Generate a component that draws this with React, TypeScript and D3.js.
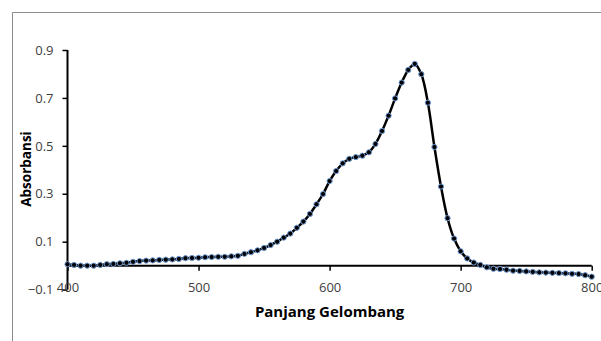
import React, { useRef, useEffect } from 'react';
import * as d3 from 'd3';

// wavelength (nm), every 5 nm
const wavelengths: number[] = d3.range(400, 801, 5);

// absorbance
const absorbance: number[] = [
  0.006, 0.003, 0.0, 0.0, 0.0, 0.003, 0.006, 0.007, 0.010, 0.012,
  0.016, 0.019, 0.021, 0.022, 0.024, 0.025, 0.026, 0.028, 0.031, 0.032,
  0.033, 0.035, 0.036, 0.037, 0.037, 0.039, 0.041, 0.049, 0.056, 0.064,
  0.074, 0.086, 0.100, 0.117, 0.134, 0.158, 0.184, 0.216, 0.256, 0.299,
  0.353, 0.395, 0.427, 0.446, 0.453, 0.459, 0.473, 0.508, 0.562, 0.626,
  0.698, 0.764, 0.817, 0.842, 0.799, 0.680, 0.495, 0.330, 0.198, 0.113,
  0.060, 0.030, 0.013, 0.003, -0.007, -0.013, -0.014, -0.017, -0.021, -0.022,
  -0.024, -0.026, -0.028, -0.029, -0.030, -0.031, -0.032, -0.034, -0.035, -0.040,
  -0.046,
];

const xTicks = [400, 500, 600, 700, 800];
const yTicks = [-0.1, 0.1, 0.3, 0.5, 0.7, 0.9];

const xTitle = 'Panjang Gelombang';
const yTitle = 'Absorbansi';

const W = 601;
const H = 341;

const App: React.FC = () => {
  const svgRef = useRef<SVGSVGElement | null>(null);

  useEffect(() => {
    if (!svgRef.current) return;
    const svg = d3.select(svgRef.current);
    svg.selectAll('*').remove();

    const tickFont = '"Open Sans", sans-serif';
    const labelColor = '#404040';

    const x = d3.scaleLinear().domain([400, 800]).range([67.5, 591.7]);
    const y = d3.scaleLinear().domain([-0.1, 0.9]).range([289.6, 50]);

    // chart border (only top and left show inside the crop)
    svg.append('path')
      .attr('d', `M12.5,${H} V12.5 H${W}`)
      .attr('fill', 'none')
      .attr('stroke', '#8c8c8c')
      .attr('stroke-width', 1);

    // y axis
    const yAxis = svg.append('g')
      .attr('transform', `translate(${x(400)},0)`)
      .call(
        d3.axisLeft(y)
          .tickValues(yTicks)
          .tickSize(5)
          .tickPadding(9)
          .tickFormat(d3.format('.1f'))
      );
    yAxis.select('.domain')
      .attr('d', `M0,${y(0.9)}V${y(-0.1)}`)
      .attr('stroke', '#000')
      .attr('stroke-width', 2);
    yAxis.selectAll('.tick line').attr('stroke', '#000').attr('stroke-width', 1.5);
    yAxis.selectAll('.tick text')
      .attr('font-family', tickFont)
      .attr('font-size', 13)
      .attr('fill', labelColor);

    // x axis, crossing at 0, labels placed low
    const xAxis = svg.append('g')
      .attr('transform', `translate(0,${y(0)})`)
      .call(
        d3.axisBottom(x)
          .tickValues(xTicks)
          .tickSize(5)
          .tickPadding(12)
          .tickFormat(d3.format('d'))
      );
    xAxis.select('.domain')
      .attr('d', `M${x(400)},0H${x(800)}`)
      .attr('stroke', '#000')
      .attr('stroke-width', 2);
    xAxis.selectAll('.tick line').attr('stroke', '#000').attr('stroke-width', 1.5);
    xAxis.selectAll('.tick text')
      .attr('font-family', tickFont)
      .attr('font-size', 13)
      .attr('fill', labelColor);

    // axis titles
    svg.append('text')
      .attr('x', (x(400) + x(800)) / 2)
      .attr('y', 317)
      .attr('text-anchor', 'middle')
      .attr('font-family', tickFont)
      .attr('font-weight', 'bold')
      .attr('font-size', 15)
      .attr('fill', '#000')
      .text(xTitle);

    svg.append('text')
      .attr('transform', `translate(31,169) rotate(-90)`)
      .attr('text-anchor', 'middle')
      .attr('font-family', tickFont)
      .attr('font-weight', 'bold')
      .attr('font-size', 13.5)
      .attr('fill', '#000')
      .text(yTitle);

    // spectrum
    const pts: [number, number][] = wavelengths.map((w, i) => [w, absorbance[i]]);
    const line = d3.line<[number, number]>()
      .x(d => x(d[0]))
      .y(d => y(d[1]))
      .curve(d3.curveCatmullRom);

    svg.append('path')
      .datum(pts)
      .attr('d', line)
      .attr('fill', 'none')
      .attr('stroke', '#000')
      .attr('stroke-width', 2.5);

    svg.append('g')
      .selectAll('circle')
      .data(pts)
      .join('circle')
      .attr('cx', d => x(d[0]))
      .attr('cy', d => y(d[1]))
      .attr('r', 2.6)
      .attr('fill', '#000')
      .attr('stroke', '#6f9bd6')
      .attr('stroke-width', 1);
  }, []);

  return (
    <svg
      ref={svgRef}
      width={W}
      height={H}
      style={{ position: 'absolute', left: 0, top: 0, background: '#fff' }}
    />
  );
};

export default App;
